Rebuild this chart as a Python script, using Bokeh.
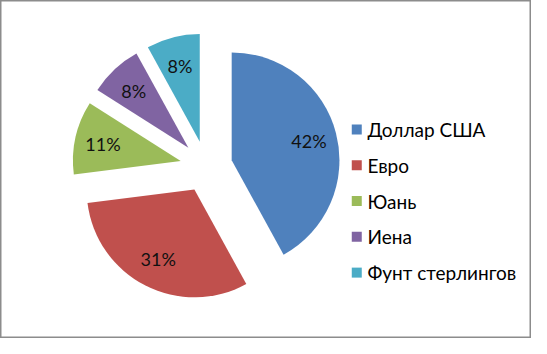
import math
from bokeh.plotting import figure
from bokeh.models import Range1d, ColumnDataSource
from bokeh.core.properties import value
from bokeh.embed import file_html
from bokeh.resources import INLINE

# ---- data ----
categories = ["Доллар США", "Евро", "Юань", "Иена", "Фунт стерлингов"]
shares = [42, 31, 11, 8, 8]
labels = ["42%", "31%", "11%", "8%", "8%"]
colors = ["#4F81BD", "#C0504D", "#9BBB59", "#8064A2", "#4BACC6"]

# ---- layout (reference pixel space, y measured downward) ----
REF_W, REF_H = 547, 354
CX, CY = 212, 174        # pie centre
R = 111                  # radius
EXPLODE = 27             # explosion distance
LABEL_F = 0.74           # label position along radius

def fy(y):
    return REF_H - y

total = float(sum(shares))
starts, ends, xs, ys, lx, ly = [], [], [], [], [], []
cum = 0.0
for s in shares:
    t1 = cum / total * 360.0
    cum += s
    t2 = cum / total * 360.0
    mid = math.radians((t1 + t2) / 2.0)
    dx, dy = math.sin(mid), -math.cos(mid)
    ax, ay = CX + EXPLODE * dx, CY + EXPLODE * dy
    xs.append(ax)
    ys.append(fy(ay))
    starts.append(math.radians(90 - t2))
    ends.append(math.radians(90 - t1))
    lx.append(ax + LABEL_F * R * dx)
    ly.append(fy(ay + LABEL_F * R * dy))

src = ColumnDataSource(dict(x=xs, y=ys, start=starts, end=ends, color=colors,
                            lx=lx, ly=ly, label=labels))

p = figure(width=531, height=338, output_backend="svg", toolbar_location=None,
           x_range=Range1d(0, REF_W), y_range=Range1d(0, REF_H), min_border=0)
p.axis.visible = False
p.xgrid.grid_line_color = None
p.ygrid.grid_line_color = None
p.outline_line_color = "#8c8c8c"
p.outline_line_width = 2
p.background_fill_color = "white"

p.wedge(x="x", y="y", radius=R, start_angle="start", end_angle="end",
        direction="anticlock", fill_color="color", line_color=None, source=src)

p.text(x="lx", y="ly", text="label", text_align="center", text_baseline="middle",
       text_font=value("Lato"), text_font_size="18px", text_color="#111111", source=src)

# legend
LEG_X, LEG_Y0, LEG_DY = 367, 135, 37.5
leg = ColumnDataSource(dict(
    mx=[LEG_X] * len(categories),
    my=[fy(LEG_Y0 + i * LEG_DY) for i in range(len(categories))],
    tx=[LEG_X + 11] * len(categories),
    name=categories, color=colors))
p.scatter(x="mx", y="my", marker="square", size=10, fill_color="color",
          line_color=None, source=leg)
p.text(x="tx", y="my", text="name", text_align="left", text_baseline="middle",
       text_font=value("Lato"), text_font_size="19px", text_color="#000000", source=leg)

open("out.html", "w").write(file_html(p, INLINE))
